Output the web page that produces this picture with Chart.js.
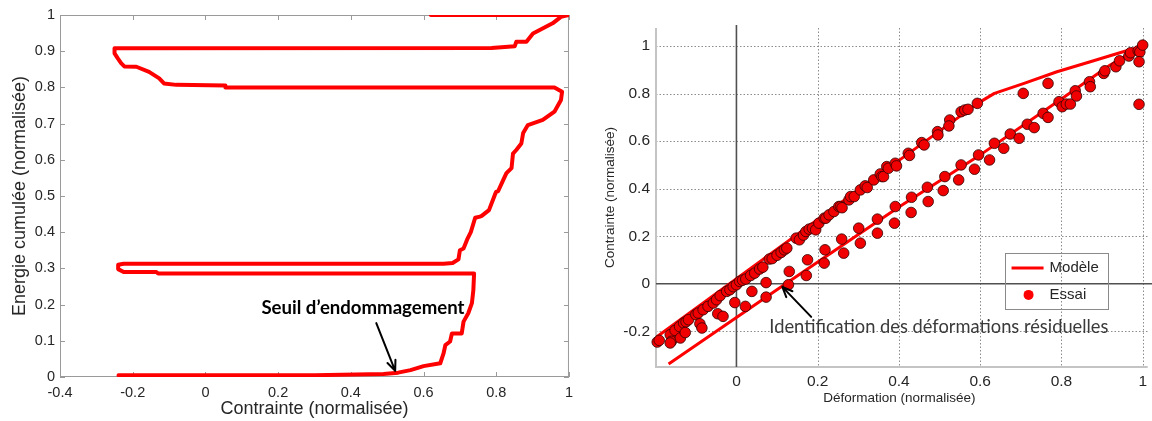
<!DOCTYPE html>
<html>
<head>
<meta charset="utf-8">
<script src="https://cdn.jsdelivr.net/npm/chart.js@4.4.1/dist/chart.umd.min.js"></script>
<style>
  html, body { margin: 0; padding: 0; background: #fff; }
  #wrap { position: relative; width: 1152px; height: 421px; overflow: hidden; }
  canvas { position: absolute; top: 0; }
  #energie { left: 0; }
  #contrainte { left: 580px; }
</style>
</head>
<body>
<div id="wrap">
  <canvas id="energie" width="580" height="421"></canvas>
  <canvas id="contrainte" width="572" height="421"></canvas>
</div>
<script>
// --- left graph : cumulated energy vs stress (path) ---
const energieStress = [-0.239, 0.30, 0.49, 0.53, 0.564, 0.60, 0.646, 0.655, 0.66, 0.673, 0.678, 0.705, 0.71, 0.723, 0.733, 0.737, 0.739,
  -0.13, -0.135, -0.225, -0.24, -0.24, -0.225, 0.655, 0.68, 0.696, 0.70, 0.71, 0.72, 0.73, 0.742, 0.755, 0.76, 0.78, 0.796, 0.80, 0.805,
  0.819, 0.828, 0.842, 0.846, 0.855, 0.869, 0.874, 0.887, 0.928, 0.96, 0.978, 0.981, 0.96, 0.919, 0.055, 0.055, -0.08, -0.114, -0.127,
  -0.155, -0.19, -0.223, -0.232, -0.241, -0.25, -0.25, 0.787, 0.851, 0.855, 0.883, 0.901, 0.955, 0.978, 1.0, 0.62];
const energieCumul = [0.005, 0.005, 0.008, 0.012, 0.019, 0.03, 0.038, 0.065, 0.088, 0.098, 0.12, 0.12, 0.153, 0.176, 0.204, 0.24, 0.286,
  0.286, 0.29, 0.29, 0.298, 0.31, 0.313, 0.313, 0.315, 0.325, 0.35, 0.355, 0.38, 0.40, 0.44, 0.443, 0.445, 0.461, 0.503, 0.512, 0.513,
  0.544, 0.563, 0.577, 0.617, 0.627, 0.645, 0.674, 0.696, 0.71, 0.733, 0.765, 0.788, 0.80, 0.80, 0.80, 0.805, 0.807, 0.811, 0.825,
  0.843, 0.857, 0.858, 0.867, 0.88, 0.894, 0.908, 0.909, 0.914, 0.926, 0.926, 0.949, 0.977, 0.995, 1.0, 1.0];
const energieXTicks = [-0.4, -0.2, 0, 0.2, 0.4, 0.6, 0.8, 1];
const energieYTicks = [0, 0.1, 0.2, 0.3, 0.4, 0.5, 0.6, 0.7, 0.8, 0.9, 1];

// --- right graph : stress vs strain, model and test ---
const modeleDef = [-0.2, 0.3, 0.594, 0.635, 0.708, 0.789, 0.871, 0.952, 1.0, 0.92, 0.798, 0.594, 0.399, 0.114, -0.167];
const modeleStress = [-0.228, 0.395, 0.759, 0.801, 0.843, 0.892, 0.934, 0.976, 0.999, 0.92, 0.775, 0.535, 0.322, -0.008, -0.337];

const essaiDef = [
  -0.195, -0.19, -0.163, -0.16, -0.151, -0.14, -0.13, -0.124, -0.118, -0.10, -0.094, -0.082, -0.07, -0.057, -0.049, -0.04, -0.024,
  -0.016, -0.008, 0.0, 0.008, 0.015, 0.023, 0.035, 0.045, 0.057, 0.065, 0.081, 0.088, 0.10, 0.11, 0.118, 0.124, 0.147, 0.155, 0.165,
  0.171, 0.179, 0.187, 0.195, 0.203, 0.216, 0.22, 0.228, 0.24, 0.252, 0.256, 0.26, 0.277, 0.281, 0.29, 0.305, 0.317, 0.322, 0.338,
  0.354, 0.358, 0.362, 0.37, 0.374, 0.391, 0.394, 0.423, 0.426, 0.456, 0.462, 0.495, 0.496, 0.525, 0.523, 0.553, 0.562, 0.57, 0.593,
  -0.163, -0.138, -0.126, -0.09, -0.085, -0.046, -0.033, -0.004, 0.022, 0.038, 0.073, 0.073, 0.128, 0.13, 0.172, 0.175, 0.216, 0.218,
  0.259, 0.264, 0.301, 0.305, 0.347, 0.347, 0.389, 0.391, 0.43, 0.431, 0.472, 0.47, 0.509, 0.513, 0.547, 0.553, 0.586, 0.596, 0.623,
  0.635, 0.658, 0.674, 0.696, 0.706, 0.716, 0.733, 0.755, 0.767, 0.767, 0.794, 0.802, 0.812, 0.822, 0.834, 0.837, 0.869, 0.871,
  0.904, 0.907, 0.934, 0.943, 0.966, 0.97, 0.989, 0.993, 0.991, 0.991, 1.0];
const essaiStress = [
  -0.245, -0.238, -0.214, -0.242, -0.196, -0.18, -0.165, -0.16, -0.151, -0.13, -0.123, -0.109, -0.095, -0.081, -0.067, -0.05, -0.032,
  -0.025, -0.012, -0.004, 0.01, 0.015, 0.02, 0.035, 0.045, 0.062, 0.07, 0.104, 0.106, 0.12, 0.132, 0.143, 0.15, 0.192, 0.185, 0.205,
  0.22, 0.23, 0.234, 0.227, 0.255, 0.276, 0.276, 0.29, 0.304, 0.325, 0.325, 0.32, 0.353, 0.367, 0.367, 0.395, 0.412, 0.405, 0.437,
  0.462, 0.451, 0.451, 0.493, 0.486, 0.507, 0.496, 0.549, 0.54, 0.594, 0.584, 0.64, 0.626, 0.689, 0.664, 0.724, 0.731, 0.734, 0.759,
  -0.249, -0.228, -0.205, -0.168, -0.186, -0.126, -0.137, -0.079, -0.095, -0.032, 0.005, -0.056, -0.004, 0.052, 0.035, 0.101, 0.087,
  0.143, 0.188, 0.129, 0.234, 0.171, 0.213, 0.272, 0.255, 0.325, 0.30, 0.364, 0.346, 0.406, 0.392, 0.451, 0.437, 0.50, 0.482, 0.542,
  0.521, 0.591, 0.57, 0.63, 0.612, 0.801, 0.671, 0.657, 0.717, 0.70, 0.843, 0.766, 0.745, 0.756, 0.756, 0.812, 0.79, 0.85, 0.829,
  0.885, 0.896, 0.913, 0.938, 0.958, 0.972, 0.98, 0.975, 0.934, 0.755, 1.004];
const defXTicks = [0, 0.2, 0.4, 0.6, 0.8, 1];
const contrYTicks = [-0.2, 0, 0.2, 0.4, 0.6, 0.8, 1];

const FONT = '"Liberation Sans", Arial, sans-serif';
const TXT = '#262626';

function zip(xs, ys) {
  return xs.map((x, i) => ({ x: x, y: ys[i] }));
}
function fmt(v) {
  return String(+v.toFixed(2));
}
function fitFont(ctx, text, weight, family, width) {
  ctx.font = weight + ' 20px ' + family;
  const size = 20 * width / ctx.measureText(text).width;
  return weight + ' ' + size.toFixed(1) + 'px ' + family;
}
function drawArrow(ctx, x1, y1, x2, y2) {
  const a = Math.atan2(y2 - y1, x2 - x1);
  ctx.save();
  ctx.strokeStyle = '#000';
  ctx.lineWidth = 2;
  ctx.lineCap = 'round';
  ctx.lineJoin = 'round';
  ctx.beginPath();
  ctx.moveTo(x1, y1);
  ctx.lineTo(x2, y2);
  ctx.moveTo(x2 - 11 * Math.cos(a - 0.4), y2 - 11 * Math.sin(a - 0.4));
  ctx.lineTo(x2, y2);
  ctx.lineTo(x2 - 11 * Math.cos(a + 0.4), y2 - 11 * Math.sin(a + 0.4));
  ctx.stroke();
  ctx.restore();
}

// MATLAB style box with inward ticks on the four sides
const boxTicks = {
  id: 'boxTicks',
  beforeDatasetsDraw(chart) {
    const { ctx, chartArea: a, scales } = chart;
    ctx.save();
    ctx.strokeStyle = '#9a9a9a';
    ctx.lineWidth = 1;
    ctx.strokeRect(a.left + 0.5, a.top + 0.5, a.right - a.left - 1, a.bottom - a.top - 1);
    ctx.beginPath();
    energieXTicks.forEach(v => {
      const px = Math.round(scales.x.getPixelForValue(v)) + 0.5;
      ctx.moveTo(px, a.bottom); ctx.lineTo(px, a.bottom - 5);
      ctx.moveTo(px, a.top); ctx.lineTo(px, a.top + 5);
    });
    energieYTicks.forEach(v => {
      const py = Math.round(scales.y.getPixelForValue(v)) + 0.5;
      ctx.moveTo(a.left, py); ctx.lineTo(a.left + 5, py);
      ctx.moveTo(a.right, py); ctx.lineTo(a.right - 5, py);
    });
    ctx.stroke();
    ctx.restore();
  },
  afterDraw(chart) {
    const { ctx, scales } = chart;
    const x = scales.x, y = scales.y;
    const label = 'Seuil d\u2019endommagement';
    const left = x.getPixelForValue(0.154), right = x.getPixelForValue(0.714);
    ctx.save();
    ctx.font = fitFont(ctx, label, 'bold', 'Lato, "Open Sans", sans-serif', right - left);
    ctx.fillStyle = '#000';
    ctx.textBaseline = 'middle';
    ctx.fillText(label, left, y.getPixelForValue(0.19));
    ctx.restore();
    drawArrow(ctx, x.getPixelForValue(0.47), y.getPixelForValue(0.149), x.getPixelForValue(0.522), y.getPixelForValue(0.017));
  }
};

new Chart(document.getElementById('energie'), {
  type: 'scatter',
  data: {
    datasets: [{
      data: zip(energieStress, energieCumul),
      showLine: true,
      borderColor: '#ff0000',
      borderWidth: 4,
      borderJoinStyle: 'round',
      borderCapStyle: 'round',
      pointRadius: 0,
      tension: 0,
      clip: 0
    }]
  },
  options: {
    responsive: false,
    animation: false,
    layout: { padding: { top: 15, right: 7, left: 0, bottom: 0 } },
    plugins: { legend: { display: false }, tooltip: { enabled: false } },
    scales: {
      x: {
        type: 'linear', min: -0.4, max: 1,
        afterBuildTicks: s => { s.ticks = energieXTicks.map(v => ({ value: v })); },
        afterFit: s => { s.height = 44; },
        grid: { display: false, drawTicks: false },
        border: { display: false },
        ticks: { callback: fmt, padding: 7, color: TXT, font: { family: FONT, size: 14.5 }, maxRotation: 0 },
        title: { display: true, text: 'Contrainte (normalisée)', color: TXT, font: { family: FONT, size: 18 }, padding: { top: 0, bottom: 1 } }
      },
      y: {
        type: 'linear', min: 0, max: 1,
        afterBuildTicks: s => { s.ticks = energieYTicks.map(v => ({ value: v })); },
        afterFit: s => { s.width = 60; },
        grid: { display: false, drawTicks: false },
        border: { display: false },
        ticks: { callback: fmt, padding: 5, color: TXT, font: { family: FONT, size: 14.5 } },
        title: { display: true, text: 'Energie cumulée (normalisée)', color: TXT, font: { family: FONT, size: 18 }, padding: { top: 9, bottom: 0 } }
      }
    }
  },
  plugins: [boxTicks]
});

// dotted grid, axes through the origin, legend and annotation
const gridOrigin = {
  id: 'gridOrigin',
  beforeDatasetsDraw(chart) {
    const { ctx, chartArea: a, scales } = chart;
    const x = scales.x, y = scales.y;
    ctx.save();
    ctx.strokeStyle = '#8c8c8c';
    ctx.lineWidth = 1;
    ctx.setLineDash([1.5, 2]);
    ctx.beginPath();
    defXTicks.forEach(v => {
      if (v === 0) return;
      const px = Math.round(x.getPixelForValue(v)) + 0.5;
      ctx.moveTo(px, a.top); ctx.lineTo(px, a.bottom);
    });
    contrYTicks.forEach(v => {
      if (v === 0) return;
      const py = Math.round(y.getPixelForValue(v)) + 0.5;
      ctx.moveTo(a.left, py); ctx.lineTo(a.right + 5, py);
    });
    ctx.stroke();
    ctx.setLineDash([]);
    // frame on the left and the bottom
    ctx.strokeStyle = '#c4c4c4';
    ctx.lineWidth = 2;
    ctx.beginPath();
    ctx.moveTo(a.left, a.top); ctx.lineTo(a.left, a.bottom); ctx.lineTo(a.right + 5, a.bottom);
    ctx.stroke();
    // axes through the origin
    ctx.strokeStyle = '#505050';
    ctx.lineWidth = 1.6;
    ctx.beginPath();
    const x0 = x.getPixelForValue(0), y0 = y.getPixelForValue(0);
    ctx.moveTo(x0, a.top - 3); ctx.lineTo(x0, a.bottom);
    ctx.moveTo(a.left, y0); ctx.lineTo(chart.width, y0);
    ctx.stroke();
    ctx.restore();
  },
  afterDraw(chart) {
    const { ctx, scales } = chart;
    const x = scales.x, y = scales.y;
    // legend box
    const l = x.getPixelForValue(0.66), r = x.getPixelForValue(0.914);
    const t = y.getPixelForValue(0.13), b = y.getPixelForValue(-0.105);
    ctx.save();
    ctx.strokeStyle = '#8a8a8a';
    ctx.lineWidth = 1;
    ctx.strokeRect(Math.round(l) + 0.5, Math.round(t) + 0.5, Math.round(r - l), Math.round(b - t));
    ctx.strokeStyle = '#ff0000';
    ctx.lineWidth = 3;
    ctx.beginPath();
    ctx.moveTo(l + 7, t + 15); ctx.lineTo(l + 39, t + 15);
    ctx.stroke();
    ctx.fillStyle = '#ff0000';
    ctx.beginPath();
    ctx.arc(l + 24, t + 42, 5, 0, Math.PI * 2);
    ctx.fill();
    ctx.fillStyle = TXT;
    ctx.font = '15px ' + FONT;
    ctx.textBaseline = 'middle';
    ctx.fillText('Modèle', l + 45, t + 15);
    ctx.fillText('Essai', l + 45, t + 42);
    // annotation
    const label = 'Identification des déformations résiduelles';
    const tl = x.getPixelForValue(0.081), tr = x.getPixelForValue(0.916);
    ctx.font = fitFont(ctx, label, 'normal', 'Lato, "Open Sans", sans-serif', tr - tl);
    ctx.fillStyle = '#3a3a3a';
    ctx.fillText(label, tl, y.getPixelForValue(-0.181));
    ctx.restore();
    drawArrow(ctx, x.getPixelForValue(0.184), y.getPixelForValue(-0.139), x.getPixelForValue(0.113), y.getPixelForValue(-0.013));
  }
};

new Chart(document.getElementById('contrainte'), {
  type: 'scatter',
  data: {
    datasets: [{
      label: 'Modèle',
      data: zip(modeleDef, modeleStress),
      showLine: true,
      borderColor: '#ff0000',
      borderWidth: 3,
      borderJoinStyle: 'round',
      pointRadius: 0,
      tension: 0,
      order: 2
    }, {
      label: 'Essai',
      data: zip(essaiDef, essaiStress),
      showLine: false,
      backgroundColor: '#f00000',
      borderColor: 'rgba(50, 0, 0, 0.8)',
      borderWidth: 1,
      pointRadius: 5.3,
      clip: false,
      order: 1
    }]
  },
  options: {
    responsive: false,
    animation: false,
    layout: { padding: { top: 28, right: 5, left: 0, bottom: 0 } },
    plugins: { legend: { display: false }, tooltip: { enabled: false } },
    scales: {
      x: {
        type: 'linear', min: -0.198, max: 1,
        afterBuildTicks: s => { s.ticks = defXTicks.map(v => ({ value: v })); },
        afterFit: s => { s.height = 54; },
        grid: { display: false, drawTicks: false },
        border: { display: false },
        ticks: { callback: fmt, padding: 5, color: TXT, font: { family: FONT, size: 15.5 }, maxRotation: 0 },
        title: { display: true, text: 'Déformation (normalisée)', color: TXT, font: { family: FONT, size: 13.5 }, padding: { top: 0, bottom: 15 } }
      },
      y: {
        type: 'linear', min: -0.35, max: 1.076,
        afterBuildTicks: s => { s.ticks = contrYTicks.map(v => ({ value: v })); },
        afterFit: s => { s.width = 76; },
        grid: { display: false, drawTicks: false },
        border: { display: false },
        ticks: { callback: fmt, padding: 6, color: TXT, font: { family: FONT, size: 15.5 } },
        title: { display: true, text: 'Contrainte (normalisée)', color: TXT, font: { family: FONT, size: 13.5 }, padding: { top: 22, bottom: 0 } }
      }
    }
  },
  plugins: [gridOrigin]
});
</script>
</body>
</html>
